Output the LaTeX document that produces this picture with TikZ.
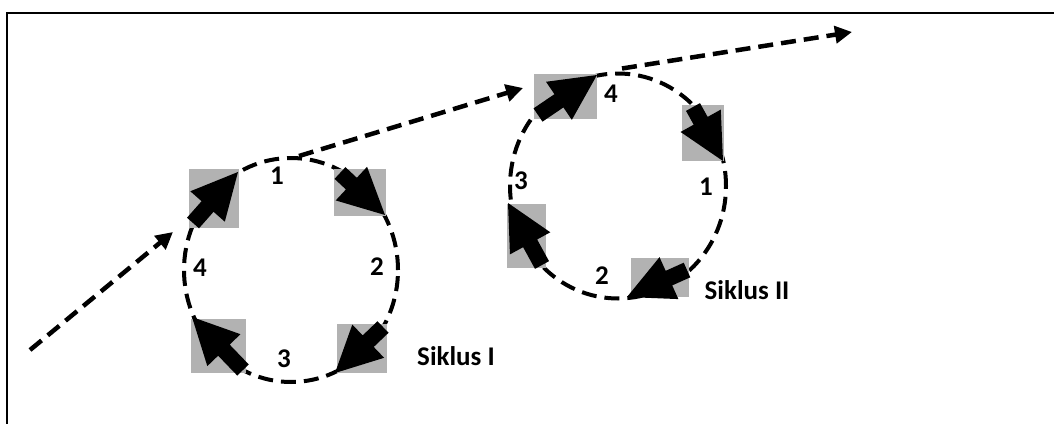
\documentclass[tikz,border=0pt]{standalone}
\usepackage{fontspec}
\setmainfont{Carlito}
\usetikzlibrary{calc,arrows.meta,shapes.geometric}
\tikzset{
  x=1pt, y=-1pt,
  sq/.style={fill=gray!60, draw=none, inner sep=0pt},
  cyc/.style={ellipse, draw, line width=4pt, dash pattern=on 15pt off 8pt, inner sep=0pt},
  flow/.style={line width=4.5pt, dash pattern=on 15pt off 8pt, -{Triangle[length=17pt,width=17pt]}},
  num/.style={font=\fontsize{27}{30}\selectfont\bfseries, inner sep=0pt},
  lbl/.style={font=\fontsize{27}{30}\selectfont\bfseries, inner sep=0pt},
}
\newcommand{\cursorarrow}[2]{%
  \fill[black] ($(#1)!8pt!90:(#2)$) -- ($($(#2)!46pt!(#1)$)!8pt!90:(#2)$)
    -- ($($(#2)!46pt!(#1)$)!23pt!90:(#2)$) -- (#2)
    -- ($($(#2)!46pt!(#1)$)!23pt!-90:(#2)$) -- ($($(#2)!46pt!(#1)$)!8pt!-90:(#2)$)
    -- ($(#1)!8pt!-90:(#2)$) -- cycle;}
\begin{document}
\begin{tikzpicture}
\useasboundingbox (0,0) rectangle (1054,423);
\fill[white] (0,0) rectangle (1054,423);
\draw[line width=2pt] (7,424) -- (7,13) -- (1055,13);

% cycles
\node[cyc, minimum width=214pt, minimum height=224pt] (c1) at (291,270) {};
\node[cyc, minimum width=216pt, minimum height=225pt] (c2) at (618,186) {};

% squares cycle I
\node[sq, minimum width=50pt, minimum height=59pt] (s1a) at (214,198.5) {};
\node[sq, minimum width=52pt, minimum height=47pt] (s1b) at (360,192.5) {};
\node[sq, minimum width=50pt, minimum height=49pt] (s1c) at (362,348.5) {};
\node[sq, minimum width=55pt, minimum height=54pt] (s1d) at (218.5,346) {};
% squares cycle II
\node[sq, minimum width=63pt, minimum height=45pt] (s2a) at (565.5,96.5) {};
\node[sq, minimum width=42pt, minimum height=56pt] (s2b) at (703,133) {};
\node[sq, minimum width=58pt, minimum height=39pt] (s2c) at (660,277.5) {};
\node[sq, minimum width=39pt, minimum height=64pt] (s2d) at (526.5,236) {};

% cursor arrows cycle I
\coordinate (t1a) at (193,223); \coordinate (p1a) at (238,172);
\coordinate (t1b) at (340,173); \coordinate (p1b) at (385,215);
\coordinate (t1c) at (383,327); \coordinate (p1c) at (335,373);
\coordinate (t1d) at (243,370); \coordinate (p1d) at (192,317);
\cursorarrow{t1a}{p1a}
\cursorarrow{t1b}{p1b}
\cursorarrow{t1c}{p1c}
\cursorarrow{t1d}{p1d}
% cursor arrows cycle II
\coordinate (t2a) at (538,115); \coordinate (p2a) at (597,75);
\coordinate (t2b) at (693,107); \coordinate (p2b) at (723,161);
\coordinate (t2c) at (687,270); \coordinate (p2c) at (627,297);
\coordinate (t2d) at (542,265); \coordinate (p2d) at (508,203);
\cursorarrow{t2a}{p2a}
\cursorarrow{t2b}{p2b}
\cursorarrow{t2c}{p2c}
\cursorarrow{t2d}{p2d}

% flow arrows
\coordinate (start) at (30,350);
\coordinate (e1) at (173,232);
\coordinate (e2) at (523,88);
\coordinate (e3) at (852,32);
\draw[flow] (start) -- (e1);
\draw[flow] (c1.north) ++(8,0) coordinate (o1) (o1) -- (e2);
\draw[flow] (c2.north) ++(4,-3) coordinate (o2) (o2) -- (e3);

% labels
\node[num] (n11) at (277,176) {1};
\node[num] (n12) at (377,267) {2};
\node[num] (n13) at (284,359) {3};
\node[num] (n14) at (200,268) {4};
\node[num] (n21) at (706,187) {1};
\node[num] (n22) at (602,276) {2};
\node[num] (n23) at (521,181) {3};
\node[num] (n24) at (611,94) {4};
\node[lbl] (k1) at (456,356) {Siklus I};
\node[lbl] (k2) at (747,290) {Siklus II};
\end{tikzpicture}
\end{document}
